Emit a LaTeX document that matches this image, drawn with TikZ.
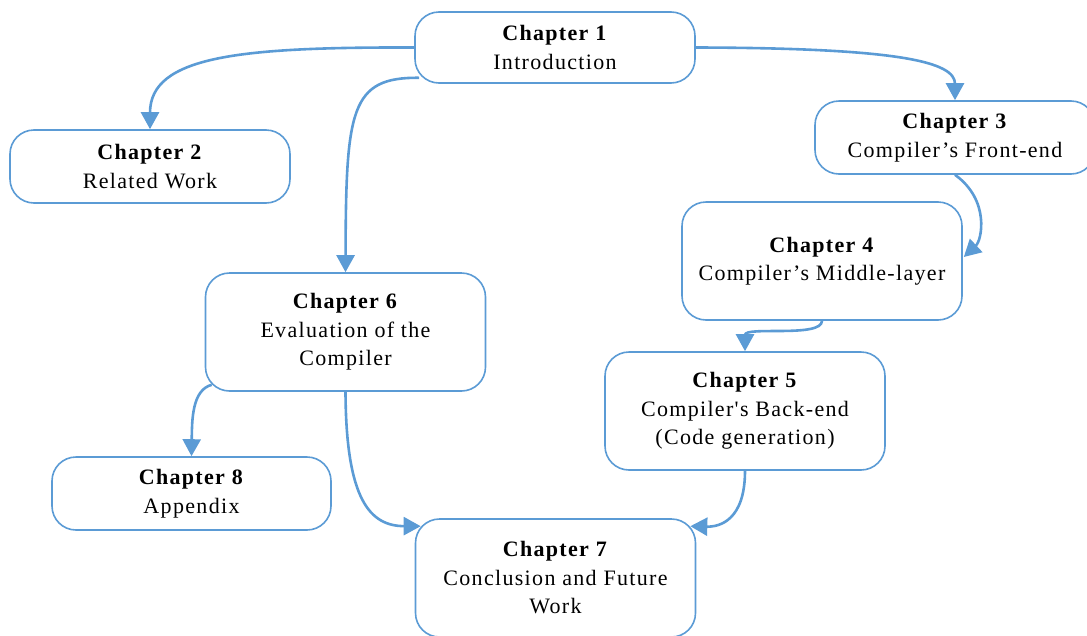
\documentclass[tikz,border=0pt]{standalone}
\usepackage{fontspec}
\setmainfont[LetterSpace=6]{Liberation Serif}
\newfontfamily\chfont[LetterSpace=6]{Liberation Serif}
\usetikzlibrary{arrows.meta,calc}
\definecolor{bblue}{HTML}{5B9BD5}
\tikzset{
  chbox/.style={draw=bblue, line width=1.6pt, rounded corners=24pt, fill=white,
    minimum width=280pt, align=center, inner sep=0pt,
    font=\chfont\fontsize{22}{28.5}\selectfont},
  conn/.style={draw=bblue, line width=2.6pt, -{Triangle[length=17pt,width=18pt]}}
}
\begin{document}
\begin{tikzpicture}[x=1pt,y=-1pt]
\useasboundingbox (0,0) rectangle (1087,635);
\node[chbox, minimum height=71pt] (c1) at (555,47.5) {\textbf{Chapter 1}\\Introduction};
\node[chbox, minimum height=73pt] (c2) at (150,166.5) {\textbf{Chapter 2}\\Related Work};
\node[chbox, minimum height=73pt] (c3) at (955,137.5) {\textbf{Chapter 3}\\Compiler’s Front-end};
\node[chbox, minimum height=118pt] (c4) at (822,261) {\textbf{Chapter 4}\\Compiler’s Middle-layer};
\node[chbox, minimum height=118pt] (c5) at (745,411) {\textbf{Chapter 5}\\Compiler's Back-end\\(Code generation)};
\node[chbox, minimum height=118pt] (c6) at (345.5,332) {\textbf{Chapter 6}\\Evaluation of the\\Compiler};
\node[chbox, minimum height=118pt] (c7) at (555.5,578) {\textbf{Chapter 7}\\Conclusion and Future\\Work};
\node[chbox, minimum height=73pt, minimum width=279pt] (c8) at (191.5,493.5) {\textbf{Chapter 8}\\Appendix};
\coordinate (s16) at ($(c1.south west)+(5,-6)$);
\coordinate (s68) at ($(c6.south west)+(7,-7)$);
\coordinate (e67) at ($(c7.north west)+(6,8)$);
\coordinate (e57) at ($(c7.north east)+(-6,8)$);
\coordinate (e34) at ($(c4.east)+(1,-4)$);
\draw[conn] (c1.west) .. controls (240,47) and (150,56) .. (c2.north);
\draw[conn] (s16) .. controls (350,77) and (346,110) .. (c6.north);
\draw[conn] (c1.east) .. controls (900,48) and (955,62) .. (c3.north);
\draw[conn] (c3.south) .. controls (990,200) and (982,240) .. (e34);
\draw[conn] (c4.south) .. controls (822,338) and (745,326) .. (c5.north);
\draw[conn] (s68) .. controls (192,390) and (192,420) .. (c8.north);
\draw[conn] (c6.south) .. controls (346,500) and (370,526) .. (e67);
\draw[conn] (c5.south) .. controls (745,520) and (720,527) .. (e57);
\end{tikzpicture}
\end{document}
